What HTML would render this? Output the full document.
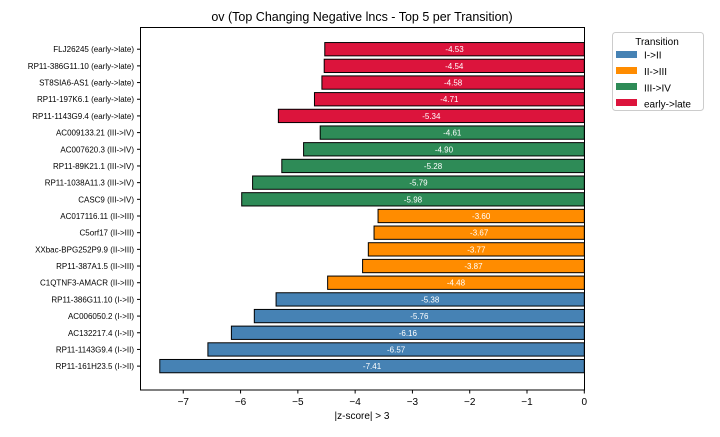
<!DOCTYPE html>
<html><head><meta charset="utf-8"><style>
body{margin:0;background:#fff;}
svg text{font-family:"Liberation Sans","DejaVu Sans",sans-serif;}
</style></head><body>
<svg id="chart" width="720" height="432" viewBox="0 0 720 432" xmlns="http://www.w3.org/2000/svg">
<rect width="720" height="432" fill="#fff"/>
<text x="362" y="21" font-size="12.5" text-anchor="middle" fill="#000">ov (Top Changing Negative lncs - Top 5 per Transition)</text>
<g id="bars"></g>
<g id="yticks"></g>
<g id="xticks"></g>
<rect x="140.5" y="27.5" width="444" height="362.5" fill="none" stroke="#000" stroke-width="1"/>
<text x="362" y="419" font-size="10" text-anchor="middle" fill="#000">|z-score| &gt; 3</text>
<g>
<rect x="612.5" y="32.5" width="91" height="78" rx="3" fill="#fff" stroke="#ccc"/>
<text x="657" y="45" font-size="10" text-anchor="middle">Transition</text>
<rect x="616" y="51" width="21" height="7" fill="#4682b4"/>
<text x="644" y="58.5" font-size="10">I-&gt;II</text>
<rect x="616" y="67" width="21" height="7" fill="#ff8c00"/>
<text x="644" y="75" font-size="10">II-&gt;III</text>
<rect x="616" y="83" width="21" height="7" fill="#2e8b57"/>
<text x="644" y="91.5" font-size="10">III-&gt;IV</text>
<rect x="616" y="99" width="21" height="7" fill="#dc143c"/>
<text x="644" y="107.5" font-size="10">early-&gt;late</text>
</g>
</svg>
<script>
const labels = ["FLJ26245 (early->late)","RP11-386G11.10 (early->late)","ST8SIA6-AS1 (early->late)","RP11-197K6.1 (early->late)","RP11-1143G9.4 (early->late)","AC009133.21 (III->IV)","AC007620.3 (III->IV)","RP11-89K21.1 (III->IV)","RP11-1038A11.3 (III->IV)","CASC9 (III->IV)","AC017116.11 (II->III)","C5orf17 (II->III)","XXbac-BPG252P9.9 (II->III)","RP11-387A1.5 (II->III)","C1QTNF3-AMACR (II->III)","RP11-386G11.10 (I->II)","AC006050.2 (I->II)","AC132217.4 (I->II)","RP11-1143G9.4 (I->II)","RP11-161H23.5 (I->II)"];
const values = [-4.53,-4.54,-4.58,-4.71,-5.34,-4.61,-4.90,-5.28,-5.79,-5.98,-3.60,-3.67,-3.77,-3.87,-4.48,-5.38,-5.76,-6.16,-6.57,-7.41];
const groups = ["early->late","early->late","early->late","early->late","early->late","III->IV","III->IV","III->IV","III->IV","III->IV","II->III","II->III","II->III","II->III","II->III","I->II","I->II","I->II","I->II","I->II"];
const xTicks = [-7,-6,-5,-4,-3,-2,-1,0];
const colors = {"I->II":"#4682b4","II->III":"#ff8c00","III->IV":"#2e8b57","early->late":"#dc143c"};
const NS="http://www.w3.org/2000/svg";
const x0=584.3, sc=57.29;
function xs(v){return x0+v*sc;}
const top0=49.2, step=16.68, bh=13.3;
function ys(i){return top0+i*step;}
const bars=document.getElementById('bars'), yt=document.getElementById('yticks'), xt=document.getElementById('xticks');
function mk(tag,attrs){const e=document.createElementNS(NS,tag);for(const k in attrs)e.setAttribute(k,attrs[k]);return e;}
values.forEach((v,i)=>{
  const r=mk('rect',{x:xs(v),y:ys(i)-bh/2,width:xs(0)-xs(v),height:bh,fill:colors[groups[i]],stroke:'#000','stroke-width':1});
  
  
  bars.appendChild(r);
  const t=mk('text',{x:xs(v/2),y:ys(i)+3,'font-size':8,'text-anchor':'middle',fill:'#fff'});
  t.textContent=v.toFixed(2);
  
  
  bars.appendChild(t);
  const tk=mk('line',{x1:137,x2:140.5,y1:ys(i),y2:ys(i),stroke:'#000'});
  
  
  yt.appendChild(tk);
  const lt=mk('text',{x:134,y:ys(i)+3,'font-size':8,'text-anchor':'end',fill:'#000'});
  lt.textContent=labels[i];
  
  
  yt.appendChild(lt);
});
xTicks.forEach(v=>{
  const tk=mk('line',{x1:xs(v),x2:xs(v),y1:390,y2:393.5,stroke:'#000'});
  
  
  xt.appendChild(tk);
  const t=mk('text',{x:xs(v),y:405,'font-size':10,'text-anchor':'middle',fill:'#000'});
  t.textContent=v<0?'\u2212'+Math.abs(v):String(v);
  
  
  xt.appendChild(t);
});
</script>
</body></html>
